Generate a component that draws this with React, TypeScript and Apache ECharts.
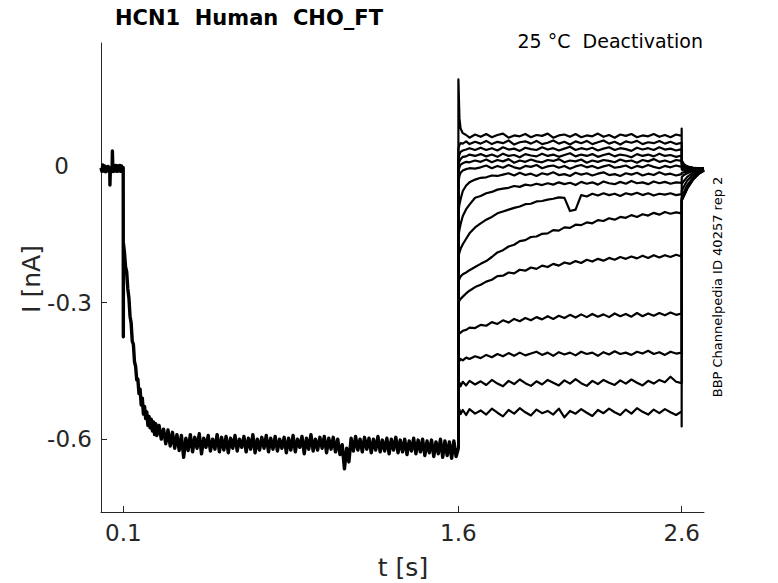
import React, { useEffect, useRef } from "react";
import * as echarts from "echarts";

// ---- Holding segment (0 - 0.1 s), all sweeps overlap ----
const holdT = [0, 0.004, 0.008, 0.012, 0.016, 0.02, 0.024, 0.028, 0.032, 0.036, 0.039, 0.04, 0.042, 0.046, 0.05, 0.051, 0.053, 0.056, 0.06, 0.064, 0.068, 0.072, 0.076, 0.08, 0.084, 0.088, 0.092, 0.096, 0.0995];
const holdI = [-0.004, -0.012, 0.002, -0.011, 0, -0.013, -0.002, -0.011, -0.001, -0.012, -0.004, -0.042, -0.006, -0.013, 0, 0.033, -0.008, -0.012, 0.001, -0.011, 0.001, -0.012, 0, -0.011, 0.001, -0.012, 0, -0.011, -0.004];

// ---- Activation step decay (0.1 - 0.35 s) ----
const decayT = [0.1, 0.1005, 0.105, 0.11, 0.115, 0.12, 0.125, 0.13, 0.135, 0.14, 0.145, 0.15, 0.155, 0.16, 0.165, 0.17, 0.175, 0.18, 0.185, 0.19, 0.195, 0.2, 0.205, 0.21, 0.215, 0.22, 0.225, 0.23, 0.235, 0.24, 0.245, 0.25, 0.26, 0.27, 0.28, 0.29, 0.3, 0.31, 0.32, 0.33, 0.34, 0.35];
const decayI = [-0.375, -0.17, -0.19, -0.222, -0.232, -0.27, -0.29, -0.33, -0.345, -0.385, -0.392, -0.43, -0.44, -0.47, -0.468, -0.5, -0.49, -0.525, -0.51, -0.545, -0.528, -0.555, -0.54, -0.57, -0.55, -0.575, -0.556, -0.582, -0.562, -0.59, -0.566, -0.592, -0.57, -0.6, -0.578, -0.61, -0.58, -0.615, -0.585, -0.62, -0.59, -0.625];

// ---- Activation plateau (0.36 - 1.60 s, sampled every 0.01 s) ----
const plateauStart = 0.36;
const plateauStep = 0.01;
const plateauI = [
  -0.592, -0.64, -0.598, -0.625, -0.59, -0.628, -0.596, -0.62, -0.588, -0.632,
  -0.598, -0.618, -0.592, -0.626, -0.6, -0.622, -0.59, -0.628, -0.596, -0.624,
  -0.594, -0.63, -0.598, -0.62, -0.592, -0.626, -0.6, -0.618, -0.594, -0.628,
  -0.598, -0.622, -0.59, -0.63, -0.6, -0.624, -0.596, -0.62, -0.592, -0.628,
  -0.598, -0.622, -0.594, -0.626, -0.6, -0.62, -0.596, -0.63, -0.598, -0.624,
  -0.592, -0.628, -0.6, -0.618, -0.594, -0.632, -0.598, -0.622, -0.59, -0.626,
  -0.6, -0.624, -0.596, -0.62, -0.594, -0.63, -0.598, -0.622, -0.596, -0.628,
  -0.6, -0.634, -0.612, -0.665, -0.62, -0.65, -0.598, -0.626, -0.594, -0.624,
  -0.6, -0.628, -0.596, -0.622, -0.598, -0.63, -0.6, -0.624, -0.594, -0.628,
  -0.602, -0.626, -0.598, -0.632, -0.6, -0.624, -0.596, -0.63, -0.602, -0.628,
  -0.6, -0.634, -0.604, -0.626, -0.598, -0.632, -0.602, -0.628, -0.6, -0.636,
  -0.604, -0.63, -0.602, -0.638, -0.606, -0.632, -0.6, -0.64, -0.604, -0.636,
  -0.606, -0.642, -0.604, -0.638, -0.62,
];

// ---- Test pulses (1.6 - 2.6 s) and tails (2.6 - 2.7 s) ----
const testT = [
  1.6003, 1.605, 1.61, 1.62, 1.635, 1.65, 1.675,
  1.7, 1.725, 1.75, 1.775, 1.8, 1.825, 1.85, 1.875, 1.9, 1.925, 1.95, 1.975, 2.0, 2.025, 2.05, 2.075, 2.1, 2.125, 2.15, 2.175, 2.2, 2.225, 2.25, 2.275, 2.3, 2.325, 2.35, 2.375, 2.4, 2.425, 2.45, 2.475, 2.5, 2.525, 2.55, 2.575, 2.6,
  2.6, 2.6005, 2.61, 2.625, 2.65, 2.675, 2.7,
];

const tr01 = [0.19, 0.105, 0.082, 0.072, 0.068, 0.062, 0.069,
  0.064, 0.07, 0.063, 0.068, 0.071, 0.062, 0.067, 0.065, 0.07, 0.063, 0.068, 0.066, 0.071, 0.062, 0.067, 0.069, 0.064, 0.07, 0.063, 0.067, 0.065, 0.071, 0.064, 0.068, 0.062, 0.069, 0.066, 0.07, 0.063, 0.067, 0.065, 0.07, 0.064, 0.068, 0.063, 0.069, 0.066,
  0.082, 0.012, 0.004, -0.001, -0.004, -0.005, -0.006];
const tr02 = [0.038, 0.046, 0.05, 0.049, 0.054, 0.048, 0.053,
  0.049, 0.055, 0.048, 0.053, 0.05, 0.056, 0.047, 0.052, 0.054, 0.049, 0.055, 0.048, 0.051, 0.056, 0.049, 0.053, 0.047, 0.054, 0.05, 0.055, 0.048, 0.052, 0.056, 0.049, 0.053, 0.047, 0.054, 0.051, 0.055, 0.048, 0.052, 0.05, 0.055, 0.049, 0.053, 0.048, 0.051,
  0.051, 0.01, 0.002, -0.002, -0.004, -0.005, -0.006];
const tr03 = [0.015, 0.025, 0.031, 0.034, 0.036, 0.039, 0.035,
  0.04, 0.035, 0.039, 0.034, 0.041, 0.036, 0.038, 0.033, 0.04, 0.037, 0.035, 0.041, 0.036, 0.039, 0.034, 0.038, 0.042, 0.035, 0.039, 0.036, 0.04, 0.034, 0.038, 0.041, 0.035, 0.039, 0.037, 0.033, 0.04, 0.036, 0.039, 0.035, 0.041, 0.036, 0.038, 0.034, 0.037,
  0.037, 0.006, 0, -0.003, -0.004, -0.005, -0.006];
const tr04 = [0.004, 0.01, 0.015, 0.02, 0.021, 0.025, 0.022,
  0.026, 0.021, 0.025, 0.02, 0.027, 0.022, 0.024, 0.019, 0.026, 0.023, 0.021, 0.027, 0.022, 0.025, 0.02, 0.024, 0.028, 0.021, 0.025, 0.022, 0.026, 0.02, 0.024, 0.027, 0.021, 0.025, 0.023, 0.019, 0.026, 0.022, 0.025, 0.021, 0.027, 0.022, 0.024, 0.02, 0.023,
  0.023, 0.002, -0.003, -0.005, -0.005, -0.006, -0.006];
const tr05 = [-0.013, -0.003, 0.003, 0.006, 0.009, 0.008, 0.012,
  0.009, 0.014, 0.008, 0.013, 0.01, 0.015, 0.007, 0.012, 0.009, 0.014, 0.01, 0.008, 0.013, 0.011, 0.015, 0.008, 0.012, 0.01, 0.014, 0.007, 0.012, 0.009, 0.013, 0.011, 0.008, 0.014, 0.01, 0.012, 0.007, 0.013, 0.01, 0.015, 0.009, 0.012, 0.008, 0.013, 0.011,
  0.011, -0.002, -0.006, -0.007, -0.006, -0.006, -0.006];
const tr06 = [-0.035, -0.022, -0.015, -0.01, -0.007, -0.005, -0.006,
  -0.003, 0.001, -0.005, 0, -0.004, 0.002, -0.003, -0.006, 0, -0.002, 0.002, -0.005, -0.001, 0.001, -0.004, 0, -0.006, -0.001, 0.002, -0.003, 0, -0.005, -0.001, 0.002, -0.004, -0.002, 0.001, -0.005, 0, -0.003, 0.002, -0.002, -0.005, 0, -0.003, 0.001, -0.002,
  -0.002, -0.008, -0.01, -0.009, -0.008, -0.007, -0.006];
const tr07 = [-0.1, -0.085, -0.073, -0.055, -0.043, -0.036, -0.03,
  -0.026, -0.025, -0.021, -0.022, -0.019, -0.016, -0.021, -0.015, -0.02, -0.017, -0.022, -0.016, -0.019, -0.014, -0.02, -0.018, -0.022, -0.015, -0.019, -0.016, -0.021, -0.017, -0.014, -0.02, -0.018, -0.022, -0.016, -0.019, -0.015, -0.021, -0.017, -0.02, -0.014, -0.019, -0.017, -0.021, -0.018,
  -0.018, -0.015, -0.014, -0.012, -0.009, -0.007, -0.006];
const tr08 = [-0.157, -0.14, -0.128, -0.11, -0.095, -0.085, -0.07,
  -0.066, -0.06, -0.057, -0.052, -0.05, -0.048, -0.044, -0.046, -0.041, -0.043, -0.039, -0.042, -0.038, -0.041, -0.036, -0.04, -0.037, -0.042, -0.035, -0.039, -0.036, -0.041, -0.034, -0.038, -0.04, -0.035, -0.039, -0.033, -0.038, -0.036, -0.04, -0.034, -0.038, -0.035, -0.039, -0.036, -0.037,
  -0.037, -0.025, -0.02, -0.016, -0.011, -0.008, -0.007];
const tr09 = [-0.2, -0.19, -0.182, -0.172, -0.16, -0.148, -0.135,
  -0.126, -0.118, -0.112, -0.104, -0.1, -0.096, -0.092, -0.089, -0.084, -0.083, -0.078, -0.077, -0.074, -0.072, -0.069, -0.07, -0.099, -0.096, -0.064, -0.067, -0.061, -0.065, -0.06, -0.064, -0.061, -0.066, -0.06, -0.063, -0.059, -0.064, -0.06, -0.065, -0.061, -0.063, -0.06, -0.064, -0.062,
  -0.062, -0.04, -0.033, -0.024, -0.015, -0.01, -0.007];
const tr10 = [-0.254, -0.248, -0.243, -0.238, -0.234, -0.229, -0.222,
  -0.215, -0.209, -0.2, -0.19, -0.185, -0.177, -0.173, -0.165, -0.163, -0.156, -0.155, -0.149, -0.148, -0.141, -0.142, -0.135, -0.136, -0.129, -0.13, -0.124, -0.126, -0.119, -0.121, -0.115, -0.118, -0.112, -0.114, -0.108, -0.112, -0.106, -0.109, -0.103, -0.107, -0.101, -0.105, -0.102, -0.104,
  -0.104, -0.055, -0.045, -0.032, -0.02, -0.012, -0.008];
const tr11 = [-0.3, -0.296, -0.292, -0.287, -0.28, -0.274, -0.266,
  -0.261, -0.254, -0.25, -0.242, -0.241, -0.234, -0.236, -0.228, -0.23, -0.223, -0.226, -0.219, -0.222, -0.215, -0.219, -0.212, -0.215, -0.209, -0.213, -0.206, -0.21, -0.204, -0.208, -0.202, -0.206, -0.2, -0.204, -0.199, -0.203, -0.197, -0.202, -0.196, -0.201, -0.196, -0.2, -0.195, -0.199,
  -0.199, -0.07, -0.058, -0.042, -0.026, -0.015, -0.009];
const tr12 = [-0.371, -0.368, -0.366, -0.362, -0.36, -0.355, -0.356,
  -0.349, -0.351, -0.343, -0.347, -0.339, -0.344, -0.336, -0.341, -0.334, -0.339, -0.332, -0.337, -0.33, -0.336, -0.329, -0.334, -0.327, -0.333, -0.326, -0.332, -0.325, -0.331, -0.326, -0.332, -0.324, -0.33, -0.325, -0.331, -0.323, -0.33, -0.324, -0.329, -0.323, -0.328, -0.322, -0.327, -0.324,
  -0.324, -0.072, -0.062, -0.046, -0.028, -0.016, -0.009];
const tr13 = [-0.43, -0.428, -0.424, -0.427, -0.421, -0.424, -0.418,
  -0.422, -0.415, -0.42, -0.413, -0.418, -0.411, -0.417, -0.41, -0.416, -0.412, -0.408, -0.415, -0.41, -0.417, -0.409, -0.414, -0.41, -0.416, -0.408, -0.413, -0.41, -0.417, -0.409, -0.414, -0.407, -0.413, -0.41, -0.415, -0.408, -0.412, -0.406, -0.413, -0.409, -0.415, -0.408, -0.412, -0.41,
  -0.41, -0.074, -0.064, -0.048, -0.029, -0.017, -0.01];
const tr14 = [-0.481, -0.476, -0.484, -0.474, -0.482, -0.472, -0.48,
  -0.473, -0.481, -0.47, -0.478, -0.484, -0.472, -0.479, -0.469, -0.477, -0.483, -0.473, -0.48, -0.47, -0.476, -0.482, -0.471, -0.478, -0.468, -0.477, -0.483, -0.472, -0.479, -0.47, -0.476, -0.481, -0.471, -0.478, -0.469, -0.476, -0.482, -0.472, -0.478, -0.47, -0.475, -0.463, -0.474, -0.477,
  -0.477, -0.075, -0.065, -0.049, -0.03, -0.017, -0.01];
const tr15 = [-0.54, -0.535, -0.545, -0.536, -0.547, -0.534, -0.544,
  -0.537, -0.546, -0.533, -0.542, -0.55, -0.536, -0.544, -0.532, -0.541, -0.548, -0.535, -0.543, -0.538, -0.546, -0.533, -0.552, -0.538, -0.544, -0.534, -0.542, -0.549, -0.536, -0.543, -0.533, -0.541, -0.547, -0.535, -0.544, -0.532, -0.54, -0.546, -0.535, -0.543, -0.534, -0.541, -0.547, -0.539,
  -0.572, -0.076, -0.066, -0.05, -0.031, -0.018, -0.01];

const sweeps = [tr01, tr02, tr03, tr04, tr05, tr06, tr07, tr08, tr09, tr10, tr11, tr12, tr13, tr14, tr15];

const xTicks = [0.1, 1.6, 2.6];
const yTicks = [-0.6, -0.3, 0];

const AXIS = "#262626";
const FONT = "DejaVu Sans";

export default function App() {
  const ref = useRef<HTMLDivElement>(null);

  useEffect(() => {
    if (!ref.current) return;
    const chart = echarts.init(ref.current, null, { renderer: "svg" });

    const plateau = plateauI.map((v, i) => [Math.round((plateauStart + i * plateauStep) * 1000) / 1000, v]);
    const activation = [
      ...holdT.map((t, i) => [t, holdI[i]]),
      ...decayT.map((t, i) => [t, decayI[i]]),
      ...plateau,
    ];
    const last = activation[activation.length - 1];

    const lineBase = {
      type: "line" as const,
      showSymbol: false,
      symbol: "none",
      silent: true,
      animation: false,
    };

    const series: any[] = [
      {
        ...lineBase,
        data: activation,
        lineStyle: { color: "#000", width: 3.4, join: "round" },
      },
      ...sweeps.map((s) => ({
        ...lineBase,
        data: [last, ...testT.map((t, i) => [t, s[i]])],
        lineStyle: { color: "#000", width: 2.2, join: "round" },
      })),
    ];

    chart.setOption({
      animation: false,
      grid: { left: 101, right: 74, top: 43, bottom: 71, containLabel: false },
      xAxis: {
        type: "value",
        min: 0,
        max: 2.7,
        axisLine: { show: true, onZero: false, lineStyle: { color: AXIS, width: 1 } },
        axisTick: { show: true, inside: true, length: 6, customValues: xTicks, lineStyle: { color: AXIS } },
        axisLabel: {
          customValues: xTicks,
          color: AXIS,
          fontSize: 23,
          fontFamily: FONT,
          margin: 9,
          formatter: (v: number) => v.toFixed(1),
        },
        splitLine: { show: false },
      },
      yAxis: {
        type: "value",
        min: -0.76,
        max: 0.27,
        axisLine: { show: true, onZero: false, lineStyle: { color: AXIS, width: 1 } },
        axisTick: { show: true, inside: true, length: 6, customValues: yTicks, lineStyle: { color: AXIS } },
        axisLabel: {
          customValues: yTicks,
          color: AXIS,
          fontSize: 23,
          fontFamily: FONT,
          margin: 9,
          formatter: (v: number) => (Math.abs(v) < 1e-9 ? "{z|0}" : v.toFixed(1)),
          rich: {
            z: { color: AXIS, fontSize: 23, fontFamily: FONT, padding: [0, 23, 0, 0] },
          },
        },
        splitLine: { show: false },
      },
      graphic: [
        {
          type: "text",
          x: 115,
          y: 18,
          style: {
            text: "HCN1  Human  CHO_FT",
            fontSize: 21,
            fontWeight: "bold",
            fontFamily: FONT,
            fill: "#000",
            align: "left",
            verticalAlign: "middle",
            textAlign: "left",
            textVerticalAlign: "middle",
          },
        },
        {
          type: "text",
          x: 703,
          y: 41,
          style: {
            text: "25 °C  Deactivation",
            fontSize: 19,
            fontFamily: FONT,
            fill: "#000",
            align: "right",
            verticalAlign: "middle",
            textAlign: "right",
            textVerticalAlign: "middle",
          },
        },
        {
          type: "text",
          x: 717,
          y: 287,
          rotation: Math.PI / 2,
          style: {
            text: "BBP Channelpedia ID 40257 rep 2",
            fontSize: 13,
            fontFamily: FONT,
            fill: "#000",
            align: "center",
            verticalAlign: "middle",
            textAlign: "center",
            textVerticalAlign: "middle",
          },
        },
        {
          type: "text",
          x: 403,
          y: 567,
          style: {
            text: "t [s]",
            fontSize: 25,
            fontFamily: FONT,
            fill: AXIS,
            align: "center",
            verticalAlign: "middle",
            textAlign: "center",
            textVerticalAlign: "middle",
          },
        },
        {
          type: "text",
          x: 31,
          y: 279,
          rotation: Math.PI / 2,
          style: {
            text: "I [nA]",
            fontSize: 25,
            fontFamily: FONT,
            fill: AXIS,
            align: "center",
            verticalAlign: "middle",
            textAlign: "center",
            textVerticalAlign: "middle",
          },
        },
      ],
      series,
    });

    return () => chart.dispose();
  }, []);

  return (
    <div
      ref={ref}
      style={{ position: "fixed", left: 0, top: 0, width: 778, height: 583, background: "#fff" }}
    />
  );
}
